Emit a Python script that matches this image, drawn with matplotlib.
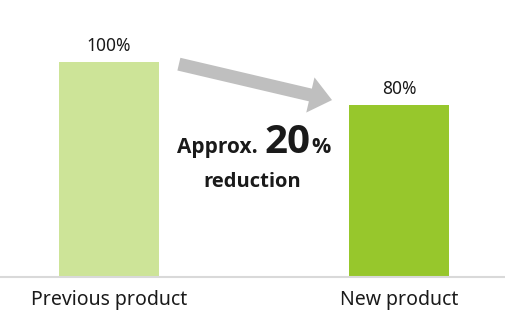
import matplotlib
matplotlib.use("Agg")
import matplotlib.pyplot as plt
from matplotlib.patches import FancyArrowPatch

plt.rcParams['font.family'] = ['Noto Sans', 'DejaVu Sans']

# data
categories = ["Previous product", "New product"]
values = [100, 80]
value_labels = ["100%", "80%"]
colors = ["#cde498", "#97c72c"]

W, H = 506, 330
fig = plt.figure(figsize=(W / 100, H / 100), dpi=100)
ax = fig.add_axes([0, 53 / H, 1, 277 / H])

x = [0, 1]
ax.bar(x, values, width=100 / 290, color=colors, zorder=2)
ax.set_xlim(-109 / 290, 1 + 107 / 290)
ax.set_ylim(0, 100 * 277 / 215)

for xi, v, lab in zip(x, values, value_labels):
    ax.annotate(lab, (xi, v), xytext=(0, 5), textcoords="offset points",
                ha="center", va="bottom", fontsize=12.5, color="#1a1a1a")

for s in ["top", "right", "left"]:
    ax.spines[s].set_visible(False)
ax.spines["bottom"].set_color("#d9d9d9")
ax.spines["bottom"].set_linewidth(1.5)
ax.set_yticks([])
ax.set_xticks(x)
ax.set_xticklabels(categories, fontsize=14, color="#1a1a1a")
ax.tick_params(axis="x", length=0, pad=9)

# grey arrow from old to new
arrow = FancyArrowPatch((0.241, 99.0), (0.769, 82.3),
                        arrowstyle="simple,head_length=16,head_width=26,tail_width=9.4",
                        mutation_scale=1, color="#bfbfbf", lw=0,
                        shrinkA=0, shrinkB=0, zorder=3)
ax.add_patch(arrow)

# reduction note
def fx(px):
    return px / W

def fy(py):
    return 1 - py / H

bold = ['Open Sans', 'DejaVu Sans']
fig.text(fx(258), fy(153), "Approx.", ha="right", va="baseline", family=bold,
         fontsize=15, fontweight="bold", color="#1a1a1a")
fig.text(fx(264), fy(153), "20", ha="left", va="baseline", family=bold,
         fontsize=29, fontweight="bold", color="#1a1a1a")
fig.text(fx(311), fy(153), "%", ha="left", va="baseline", family=bold,
         fontsize=15.5, fontweight="bold", color="#1a1a1a")
fig.text(fx(252.5), fy(187), "reduction", ha="center", va="baseline", family=bold,
         fontsize=14.5, fontweight="bold", color="#1a1a1a")

fig.savefig("out.png", dpi=100)
